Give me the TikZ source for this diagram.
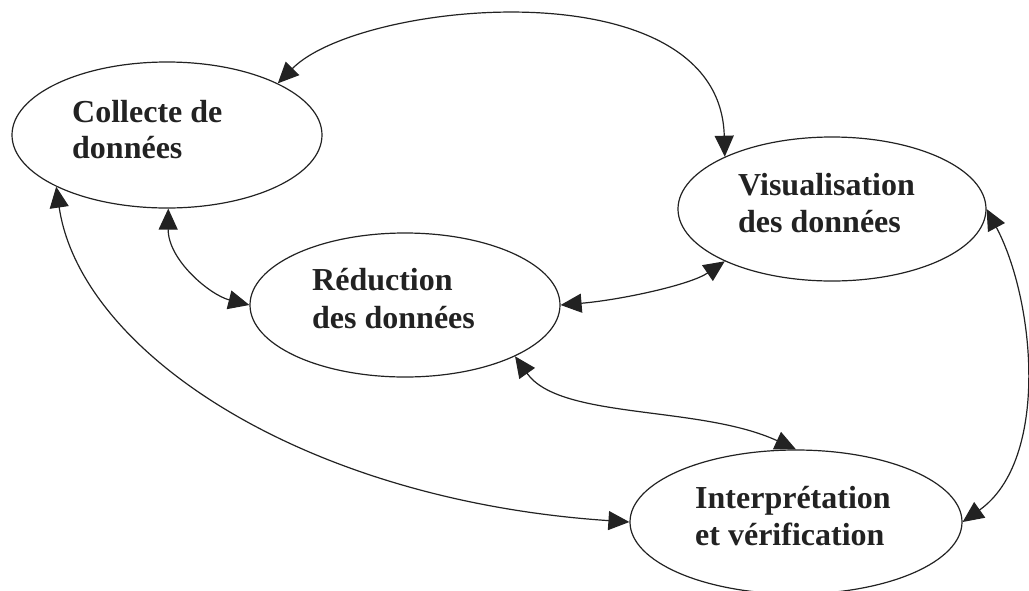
\documentclass[tikz,border=0pt]{standalone}
\usepackage{fontspec}
\setmainfont{Liberation Serif}
\usetikzlibrary{shapes.geometric,arrows.meta}
\definecolor{ink}{HTML}{222222}
\begin{document}
\begin{tikzpicture}[x=1pt,y=-1pt,
  bubble/.style={draw=ink,line width=1.2pt,ellipse,inner sep=0pt},
  lbl/.style={anchor=base west,inner sep=0pt,text=ink,font=\fontsize{32}{37}\selectfont\bfseries},
  link/.style={draw=ink,line width=1.2pt,{Triangle[length=21pt,width=19pt]}-{Triangle[length=21pt,width=19pt]}}]
\useasboundingbox (0,0) rectangle (1029,590);
\node[bubble,minimum width=310pt,minimum height=146pt] (c) at (167,135) {};
\node[bubble,minimum width=308pt,minimum height=144pt] (v) at (832,209) {};
\node[bubble,minimum width=310pt,minimum height=144pt] (r) at (405,305) {};
\node[bubble,minimum width=332pt,minimum height=144pt] (i) at (796,522) {};
\node[lbl] (c1) at (72,122) {Collecte de};
\node[lbl] (c2) at (72,158) {données};
\node[lbl] (v1) at (738,195) {Visualisation};
\node[lbl] (v2) at (738,232) {des données};
\node[lbl] (r1) at (312,290) {Réduction};
\node[lbl] (r2) at (312,328) {des données};
\node[lbl] (i1) at (695,508) {Interprétation};
\node[lbl] (i2) at (695,545) {et vérification};
\draw[link] (c.25) .. controls (360,0) and (720,-35) .. (v.154);
\draw[link] (c.-89) .. controls (168,260) and (210,295) .. (r.180);
\draw[link] (c.205) .. controls (80,350) and (300,500) .. (i.180);
\draw[link] (r.0) .. controls (620,300) and (690,285) .. (v.206);
\draw[link] (r.-25) .. controls (560,420) and (700,405) .. (i.90);
\draw[link] (v.0) .. controls (1035,300) and (1050,460) .. (i.0);
\end{tikzpicture}
\end{document}
